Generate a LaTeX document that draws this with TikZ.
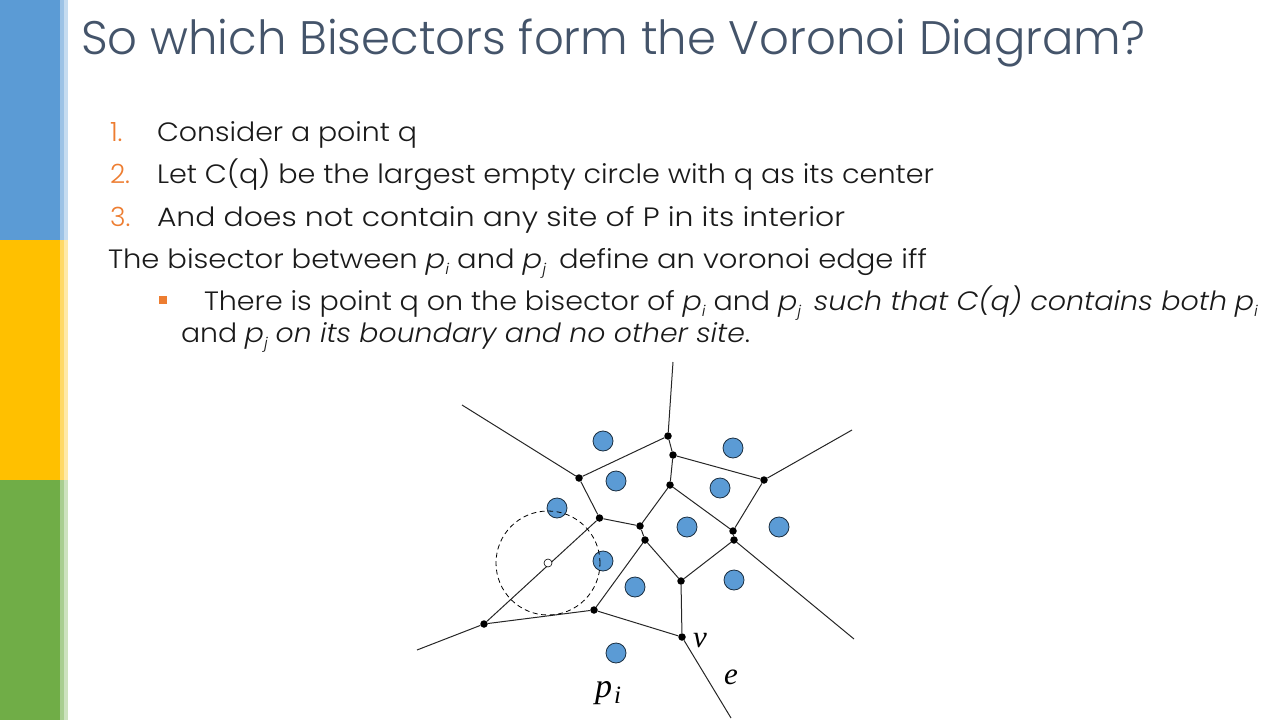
\documentclass[tikz,border=0pt]{standalone}
\usepackage{fontspec}
\usepackage{graphicx}
\setmainfont{Poppins}[UprightFont=* Light,ItalicFont=* Light Italic]
\newfontfamily\labelfont{Liberation Serif}
\usetikzlibrary{positioning}
\definecolor{titleblue}{HTML}{44546A}
\definecolor{listorange}{HTML}{ED7D31}
\definecolor{barblue}{HTML}{5B9BD5}
\definecolor{bargold}{HTML}{FFC000}
\definecolor{bargreen}{HTML}{70AD47}
\definecolor{textgrey}{HTML}{1A1A1A}
\newcommand{\psub}[1]{\textit{p}\raisebox{-0.25em}{\fontsize{15}{15}\selectfont\textit{#1}}}
\newcommand{\fitline}[2]{\resizebox{#1pt}{\height}{#2}}
\tikzset{
  line/.style={anchor=base west,inner sep=0pt,outer sep=0pt,text=textgrey,font=\fontsize{26.5}{30}\selectfont},
  num/.style={line,text=listorange},
  site/.style={circle,draw=black!70!barblue,fill=barblue,line width=0.8pt,minimum size=20pt,inner sep=0pt},
  vertex/.style={circle,fill=black,minimum size=7.5pt,inner sep=0pt},
  edge/.style={draw=black!85,line width=1pt},
  marklabel/.style={anchor=base west,inner sep=0pt,font=\labelfont\itshape\fontsize{31}{31}\selectfont}
}
\begin{document}
\begin{tikzpicture}[x=1pt,y=-1pt]
\useasboundingbox (0,0) rectangle (1280,720);
% Colour bars
\fill[barblue] (0,0) rectangle (60,240);
\fill[bargold] (0,240) rectangle (60,480);
\fill[bargreen] (0,480) rectangle (60,720);
\foreach \xa/\op in {60/0.6,64/0.35}{
  \fill[barblue,opacity=\op] (\xa,0) rectangle (\xa+4,240);
  \fill[bargold,opacity=\op] (\xa,240) rectangle (\xa+4,480);
  \fill[bargreen,opacity=\op] (\xa,480) rectangle (\xa+4,720);
}
% Title
\node[anchor=base west,inner sep=0pt,text=titleblue,font=\fontsize{47}{50}\selectfont] (title) at (81,54) {\fitline{1064}{So which Bisectors form the Voronoi Diagram?}};
% List
\node[num] (n1) at (110,141) {1.};
\node[line] (l1) at (157,141) {\fitline{260}{Consider a point q}};
\node[num] (n2) at (110,183) {2.};
\node[line] (l2) at (157,183) {\fitline{777}{Let C(q) be the largest empty circle with q as its center}};
\node[num] (n3) at (110,226) {3.};
\node[line] (l3) at (157,226) {\fitline{688}{And does not contain any site of P in its interior}};
\node[line] (l4) at (108,268) {\fitline{819}{The bisector between \psub{i} and \psub{j}\, define an voronoi edge iff}};
\node[fill=listorange,minimum size=8pt,inner sep=0pt] (bullet) at (163,300) {};
\node[line] (l5) at (204,310) {\fitline{1054}{There is point q on the bisector of \psub{i} and \psub{j}\, \textit{such that C(q) contains both} \psub{i}}};
\node[line] (l6) at (181,342) {\fitline{569}{and \psub{j} \textit{on its boundary and no other site}.}};
% Sites
\node[site] (s1) at (603,441) {};
\node[site] (s2) at (616,481) {};
\node[site] (s3) at (557,508) {};
\node[site] (s4) at (733,448) {};
\node[site] (s5) at (720,488) {};
\node[site] (s6) at (687,527) {};
\node[site] (s7) at (779,527) {};
\node[site] (s8) at (603,561) {};
\node[site] (s9) at (635,587) {};
\node[site] (s10) at (734,580) {};
\node[site] (s11) at (616,653) {};
% Voronoi vertices
\node[vertex] (a) at (579,478) {};
\node[vertex] (b) at (599.5,518) {};
\node[vertex] (c) at (640,526) {};
\node[vertex] (d) at (645,540) {};
\node[vertex] (f) at (484,624) {};
\node[vertex] (g) at (594,610) {};
\node[vertex] (h) at (681,581) {};
\node[vertex] (l) at (670,485) {};
\node[vertex] (m) at (673,455) {};
\node[vertex] (n) at (668,436) {};
\node[vertex] (r) at (764,480) {};
\node[vertex] (u) at (733,531) {};
\node[vertex] (t) at (734,540) {};
\node[vertex] (v) at (682,637) {};
% Free ends
\coordinate (endnw) at (462,405);
\coordinate (endn) at (673,362);
\coordinate (endne) at (852,430);
\coordinate (ende) at (854,639);
\coordinate (endse) at (731,718);
\coordinate (endw) at (417,650);
% Edges
\draw[edge] (endnw) -- (a);
\draw[edge] (a) -- (b);
\draw[edge] (a) -- (n);
\draw[edge] (n) -- (endn);
\draw[edge] (n) -- (m);
\draw[edge] (m) -- (l);
\draw[edge] (m) -- (r);
\draw[edge] (r) -- (endne);
\draw[edge] (r) -- (u);
\draw[edge] (u) -- (l);
\draw[edge] (u) -- (t);
\draw[edge] (t) -- (ende);
\draw[edge] (t) -- (h);
\draw[edge] (h) -- (d);
\draw[edge] (d) -- (c);
\draw[edge] (c) -- (l);
\draw[edge] (c) -- (b);
\draw[edge] (b) -- (f);
\draw[edge] (f) -- (endw);
\draw[edge] (f) -- (g);
\draw[edge] (g) -- (d);
\draw[edge] (g) -- (v);
\draw[edge] (v) -- (h);
\draw[edge] (v) -- (endse);
% Empty circle round q
\node[circle,draw=black,dash pattern=on 5pt off 3.5pt,line width=0.8pt,minimum size=104pt,inner sep=0pt] (cq) at (548,563) {};
\node[circle,draw=black,fill=white,line width=0.6pt,minimum size=8pt,inner sep=0pt] (q) at (548,563) {};
% Labels
\node[marklabel] (lv) at (693,647) {v};
\node[marklabel] (le) at (724,684) {e};
\node[marklabel,font=\labelfont\itshape\fontsize{34}{34}\selectfont] (lp) at (595,697) {p\hspace{2pt}\raisebox{-6pt}{\fontsize{25}{25}\selectfont i}};
\end{tikzpicture}
\end{document}
